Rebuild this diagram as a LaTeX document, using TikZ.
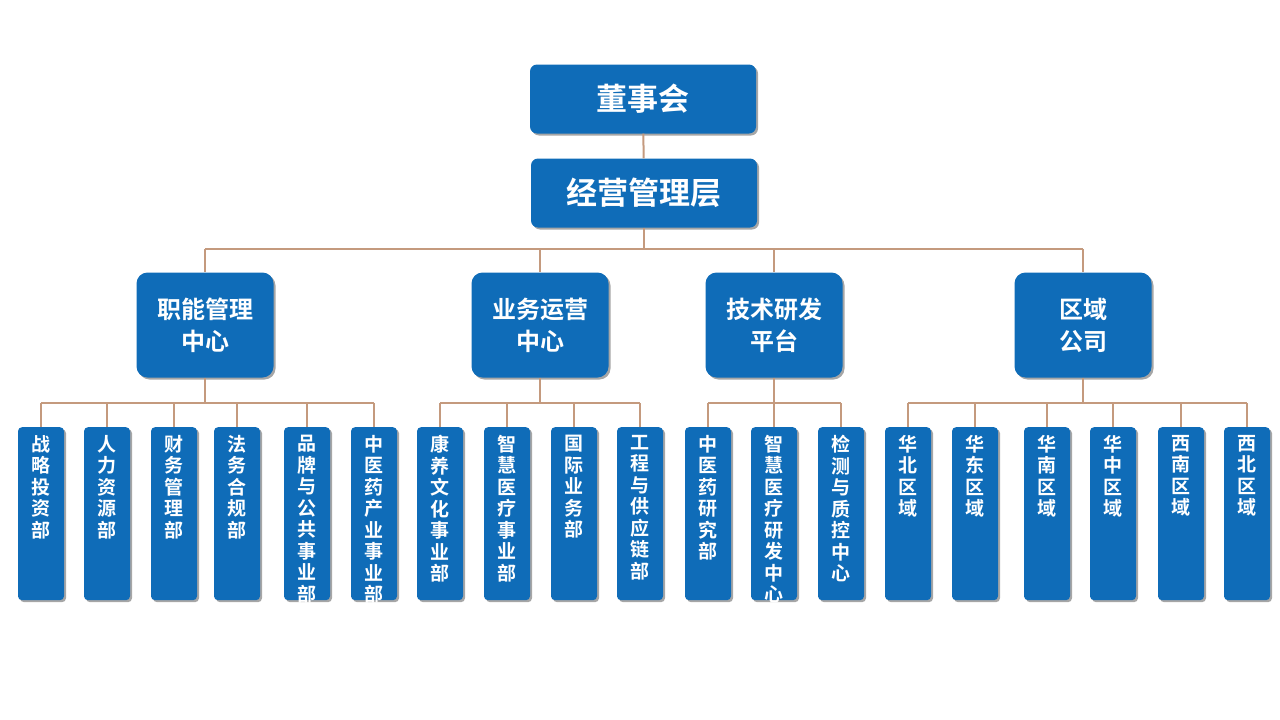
\documentclass[tikz,border=0pt]{standalone}
\usepackage{fontspec}
\newfontfamily\cjk{Noto Sans CJK SC}[BoldFont={Noto Sans CJK SC Bold}]
\definecolor{boxblue}{RGB}{15,108,184}
\definecolor{linetan}{RGB}{196,154,126}
\begin{document}
\begin{tikzpicture}[x=1pt,y=-1pt,
 box/.style={fill=boxblue,draw=none,text=white,font=\cjk\bfseries,
   drop shadow/.style={},inner sep=0pt,
   preaction={fill=black!35,transform canvas={xshift=2pt,yshift=-2pt}}},
 top/.style={box,rounded corners=7pt,minimum width=226pt,minimum height=69pt,font=\cjk\bfseries\fontsize{31}{36}\selectfont},
 mid/.style={box,rounded corners=11pt,minimum width=137pt,minimum height=105pt,align=center,font=\cjk\bfseries\fontsize{24}{32}\selectfont},
 leaf/.style={box,rounded corners=4pt,minimum width=46pt,minimum height=173pt,text width=22pt,align=center,anchor=north,font=\cjk\bfseries\fontsize{19}{21.5}\selectfont},
 ln/.style={draw=linetan,line width=2pt}]
\useasboundingbox (0,0) rectangle (1280,720);
\node[top] (a) at (643,99) {董事会};
\node[top] (b) at (644,193) {经营管理层};
\draw[ln] (a) -- (b);
\node[mid] (m1) at (205,325) {职能管理\\中心};
\node[mid] (m2) at (540,325) {业务运营\\中心};
\node[mid] (m3) at (774,325) {技术研发\\平台};
\node[mid] (m4) at (1083,325) {区域\\公司};
\coordinate (bus) at (644,249);
\draw[ln] (b) -- (bus);
\draw[ln] (205,249) -- (1083,249);
\foreach \m/\x in {m1/205,m2/540,m3/774,m4/1083}{\draw[ln] (\x,249) -- (\m.north);}
% leaves
\newcommand{\lf}[3]{\node[leaf] (#1) at (#2,427) {\vbox to 165pt{\vskip4pt\hbox to 22pt{\hss\vbox{\hsize=22pt\centering #3\par}\hss}\vss}};}
\lf{l1}{41}{战\\略\\投\\资\\部}
\lf{l2}{107}{人\\力\\资\\源\\部}
\lf{l3}{174}{财\\务\\管\\理\\部}
\lf{l4}{237}{法\\务\\合\\规\\部}
\lf{l5}{307}{品\\牌\\与\\公\\共\\事\\业\\部}
\lf{l6}{374}{中\\医\\药\\产\\业\\事\\业\\部}
\lf{l7}{440}{康\\养\\文\\化\\事\\业\\部}
\lf{l8}{507}{智\\慧\\医\\疗\\事\\业\\部}
\lf{l9}{574}{国\\际\\业\\务\\部}
\lf{l10}{640}{工\\程\\与\\供\\应\\链\\部}
\lf{l11}{708}{中\\医\\药\\研\\究\\部}
\lf{l12}{774}{智\\慧\\医\\疗\\研\\发\\中\\心}
\lf{l13}{841}{检\\测\\与\\质\\控\\中\\心}
\lf{l14}{908}{华\\北\\区\\域}
\lf{l15}{975}{华\\东\\区\\域}
\lf{l16}{1047}{华\\南\\区\\域}
\lf{l17}{1113}{华\\中\\区\\域}
\lf{l18}{1181}{西\\南\\区\\域}
\lf{l19}{1247}{西\\北\\区\\域}
\draw[ln] (m1.south) -- (205,403); \draw[ln] (41,403) -- (374,403);
\foreach \l/\x in {l1/41,l2/107,l3/174,l4/237,l5/307,l6/374}{\draw[ln] (\x,403) -- (\l.north);}
\draw[ln] (m2.south) -- (540,403); \draw[ln] (440,403) -- (640,403);
\foreach \l/\x in {l7/440,l8/507,l9/574,l10/640}{\draw[ln] (\x,403) -- (\l.north);}
\draw[ln] (m3.south) -- (774,403); \draw[ln] (708,403) -- (841,403);
\foreach \l/\x in {l11/708,l12/774,l13/841}{\draw[ln] (\x,403) -- (\l.north);}
\draw[ln] (m4.south) -- (1083,403); \draw[ln] (908,403) -- (1247,403);
\foreach \l/\x in {l14/908,l15/975,l16/1047,l17/1113,l18/1181,l19/1247}{\draw[ln] (\x,403) -- (\l.north);}
\end{tikzpicture}
\end{document}
